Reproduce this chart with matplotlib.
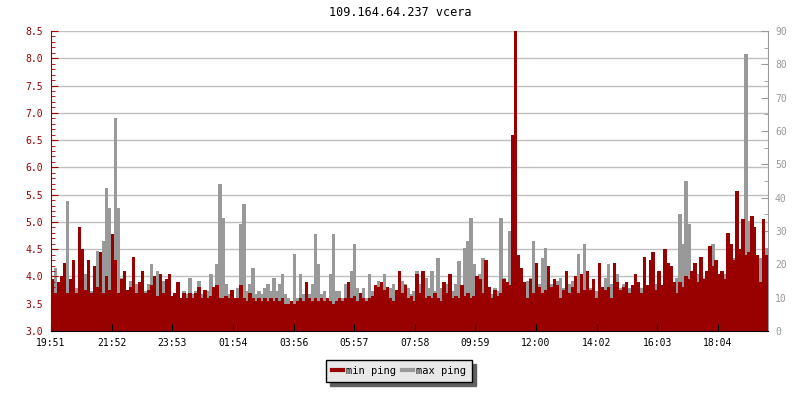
# Min / max ping over one day (dual axis bar chart)
import numpy as np
import matplotlib
matplotlib.use('Agg')
import matplotlib.pyplot as plt
from matplotlib.lines import Line2D
from matplotlib.ticker import MultipleLocator, FormatStrFormatter

plt.rcParams['font.family'] = ['DejaVu Sans Mono', 'DejaVu Sans']

# Datos (una muestra cada ~6 minutos)
titulo = "109.164.64.237 vcera"
inicio = "19:51"
duracion_min = 1433

etiquetas_tiempo = ['19:51', '21:52', '23:53', '01:54', '03:56', '05:57',
                    '07:58', '09:59', '12:00', '14:02', '16:03', '18:04']

# min ping (ms, eje izquierdo)
min_ping = [
    3.95, 3.7, 3.9, 4.0, 4.25, 3.7, 3.95, 4.3, 3.7, 4.9,
    4.5, 3.75, 4.3, 3.7, 4.2, 3.8, 4.45, 3.7, 4.0, 3.75,
    4.78, 4.3, 3.7, 3.95, 4.1, 3.75, 3.8, 4.35, 3.7, 3.9,
    4.1, 3.7, 3.75, 3.85, 4.0, 3.65, 4.05, 3.7, 3.95, 4.05,
    3.65, 3.7, 3.9, 3.6, 3.7, 3.6, 3.7, 3.6,
    3.7, 3.8, 3.6, 3.75, 3.6, 3.65, 3.8, 3.85, 3.6, 3.6,
    3.65, 3.6, 3.75, 3.6, 3.6, 3.85, 3.6, 3.55, 3.7, 3.6,
    3.55, 3.6, 3.55, 3.6, 3.55, 3.6, 3.55, 3.6, 3.55, 3.6,
    3.5, 3.5, 3.55, 3.5, 3.55, 3.6, 3.55, 3.9, 3.6, 3.55,
    3.6, 3.55, 3.6, 3.55, 3.6, 3.55, 3.5, 3.55,
    3.6, 3.55, 3.6, 3.9, 3.6, 3.65, 3.55, 3.7, 3.6, 3.55,
    3.6, 3.65, 3.85, 3.8, 3.9, 3.75, 3.8, 3.6, 3.55, 3.75,
    4.1, 3.7, 3.85, 3.6, 3.65, 3.55, 4.05, 3.7, 4.1, 3.6,
    3.65, 3.6, 3.7, 3.6, 3.55, 3.9, 3.7, 4.05, 3.6, 3.65,
    3.6, 3.85, 3.65, 3.7, 3.6, 3.65, 4.0, 3.95,
    3.7, 4.3, 3.8, 3.6, 3.75, 3.65, 3.7, 3.95, 3.9, 3.85,
    6.6, 8.5, 4.4, 4.15, 3.9, 3.6, 3.95, 3.7, 4.25, 3.8,
    3.7, 3.75, 4.2, 3.8, 3.95, 3.85, 3.6, 3.75, 4.1, 3.7,
    3.8, 4.0, 3.7, 4.05, 3.75, 4.1, 3.75, 3.95, 3.6, 4.25,
    3.8, 3.75, 3.8, 3.6, 4.25, 3.9, 3.75, 3.8,
    3.9, 3.7, 3.85, 4.05, 3.9, 3.7, 4.35, 3.85, 4.3, 4.45,
    3.75, 4.1, 3.85, 4.5, 4.25, 4.2, 3.9, 3.7, 3.9, 3.8,
    4.0, 3.95, 4.1, 4.25, 3.9, 4.35, 3.95, 4.1, 4.55, 4.2,
    4.3, 4.05, 4.1, 3.95, 4.8, 4.6, 4.3, 5.57, 4.5, 5.05,
    4.4, 4.45, 5.1, 4.9, 4.4, 3.9, 5.05, 4.4,
]

# max ping (ms, eje derecho)
max_ping = [
    12, 19, 10, 16, 14, 39, 12, 15, 13, 14,
    16, 17, 14, 12, 16, 24, 20, 27, 43, 37,
    22, 64, 37, 16, 14, 12, 15, 12, 14, 11,
    16, 12, 14, 20, 13, 18, 12, 15, 11, 13,
    10, 11, 12, 10, 12, 11, 16, 11,
    12, 15, 11, 10, 12, 17, 11, 20, 44, 34,
    14, 11, 12, 10, 13, 32, 38, 12, 14, 19,
    11, 12, 11, 13, 14, 12, 16, 12, 14, 17,
    11, 10, 9, 23, 10, 17, 11, 12, 11, 14,
    29, 20, 11, 12, 10, 17, 29, 12,
    12, 10, 14, 12, 18, 26, 13, 11, 13, 10,
    17, 12, 13, 15, 14, 17, 12, 13, 14, 11,
    12, 15, 14, 13, 11, 12, 18, 14, 12, 16,
    13, 18, 12, 22, 13, 12, 14, 17, 12, 14,
    21, 13, 25, 27, 34, 20, 15, 17,
    22, 14, 12, 11, 13, 12, 34, 16, 13, 30,
    25, 35, 14, 14, 12, 15, 16, 27, 20, 14,
    22, 25, 19, 14, 12, 15, 16, 13, 12, 14,
    15, 12, 23, 13, 26, 15, 13, 14, 12, 15,
    13, 16, 20, 14, 20, 17, 13, 14,
    12, 13, 11, 14, 12, 13, 14, 12, 15, 13,
    14, 16, 12, 15, 17, 19, 13, 16, 35, 26,
    45, 32, 18, 15, 17, 14, 16, 18, 20, 26,
    17, 16, 15, 17, 16, 18, 22, 20, 22, 30,
    83, 33, 22, 19, 18, 22, 30, 25,
]

ROJO = '#990000'
GRIS = '#999999'


def a_minutos(hhmm):
    h, m = hhmm.split(':')
    return int(h) * 60 + int(m)


n = len(min_ping)
paso = duracion_min / n
x = np.arange(n) * paso
pos_ticks = [(a_minutos(t) - a_minutos(inicio)) % 1440 for t in etiquetas_tiempo]

fig = plt.figure(figsize=(8, 4), dpi=100)
rect = [51 / 800, 69 / 400, 717 / 800, 300 / 400]

# eje base: solo rejilla
ax = fig.add_axes(rect)
ax.set_xlim(0, duracion_min)
ax.set_ylim(3.0, 8.5)
ax.yaxis.set_major_locator(MultipleLocator(0.5))
ax.grid(axis='y', color='#c0c0c0', linewidth=1)
ax.tick_params(length=0, labelleft=False, labelbottom=False)
for s in ax.spines.values():
    s.set_visible(False)

# max ping en eje derecho (barras algo solapadas para no dejar huecos)
ax_max = ax.twinx()
ax_max.bar(x, max_ping, width=paso * 1.15, align='edge', color=GRIS,
           linewidth=0, antialiased=False)
ax_max.set_ylim(0, 90)
ax_max.set_xlim(0, duracion_min)
ax_max.yaxis.set_major_locator(MultipleLocator(10))
ax_max.yaxis.set_minor_locator(MultipleLocator(5))
ax_max.tick_params(axis='y', which='both', direction='in', colors=GRIS,
                   labelsize=7, pad=5)
ax_max.tick_params(axis='y', which='major', length=5)
ax_max.tick_params(axis='y', which='minor', length=3)
for nombre, s in ax_max.spines.items():
    s.set_visible(nombre == 'right')
ax_max.spines['right'].set_color(GRIS)

# min ping en eje izquierdo, dibujado encima
ax_min = ax.twinx()
ax_min.bar(x, min_ping, width=paso * 1.15, align='edge', color=ROJO,
           linewidth=0, antialiased=False)
ax_min.set_ylim(3.0, 8.5)
ax_min.yaxis.tick_left()
ax_min.yaxis.set_label_position('left')
ax_min.yaxis.set_major_locator(MultipleLocator(0.5))
ax_min.yaxis.set_minor_locator(MultipleLocator(0.1))
ax_min.yaxis.set_major_formatter(FormatStrFormatter('%.1f'))
ax_min.tick_params(axis='y', which='both', direction='in', colors=ROJO,
                   labelsize=7, pad=6)
ax_min.tick_params(axis='y', which='major', length=5)
ax_min.tick_params(axis='y', which='minor', length=3)
ax_min.xaxis.set_visible(True)
ax_min.xaxis.tick_bottom()
ax_min.set_xticks(pos_ticks)
ax_min.set_xticklabels(etiquetas_tiempo)
ax_min.tick_params(axis='x', direction='in', length=5, color='black',
                   labelsize=7, pad=5)
ax_min.set_xlim(0, duracion_min)
ax_min.spines['top'].set_visible(False)
ax_min.spines['right'].set_visible(False)
ax_min.spines['left'].set_color(ROJO)
ax_min.spines['bottom'].set_color('black')

fig.text(0.5, 1 - 13 / 400, titulo, ha='center', va='center', fontsize=8.5)

manejadores = [Line2D([], [], color=ROJO, linewidth=3),
               Line2D([], [], color=GRIS, linewidth=3)]
leyenda = fig.legend(manejadores, ['min ping', 'max ping'], loc='center',
                     bbox_to_anchor=(399 / 800, 1 - 371 / 400), ncol=2,
                     fontsize=7.5, frameon=True, fancybox=False,
                     shadow={'color': '#606060', 'alpha': 1, 'ox': 3, 'oy': -3},
                     facecolor='#e8e8e8', edgecolor='black', framealpha=1,
                     handlelength=1.0, handletextpad=0.3, columnspacing=0.6,
                     borderpad=0.6)

fig.savefig('out.png', dpi=100)
